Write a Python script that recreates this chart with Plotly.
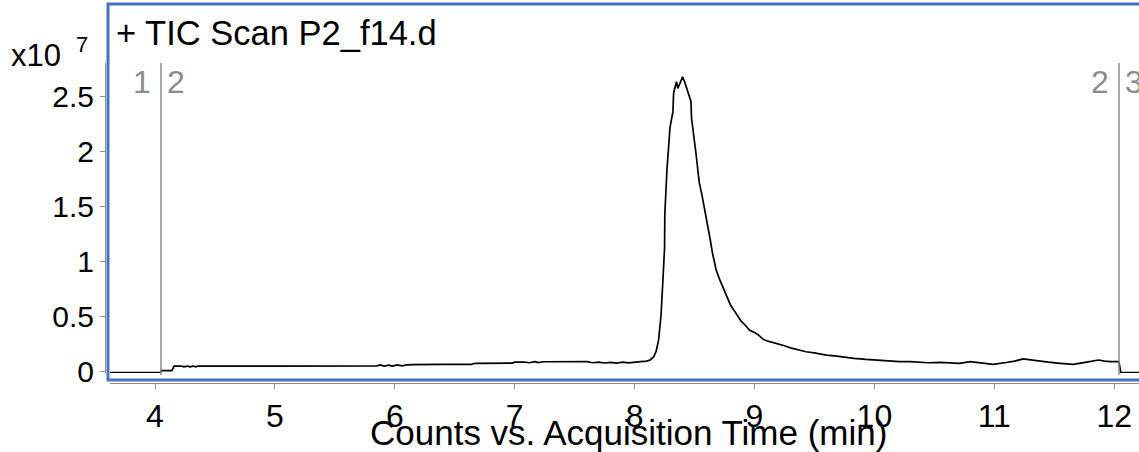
import plotly.graph_objects as go

# Total ion chromatogram, counts in units of 1e7
time_min = [
    3.58, 4.05, 4.05, 4.14, 4.16, 4.22, 4.24, 4.27, 4.29, 4.32, 4.34, 4.36,
    5.00, 5.85, 5.88, 5.91, 5.95, 5.98, 6.02, 6.06, 6.10, 6.15, 6.40, 6.64,
    6.66, 6.69, 6.98, 7.00, 7.08, 7.12, 7.17, 7.20, 7.24, 7.40, 7.60, 7.65,
    7.70, 7.75, 7.80, 7.85, 7.90, 7.95, 8.00, 8.05, 8.10, 8.13, 8.16, 8.18,
    8.20, 8.22, 8.235, 8.245, 8.25, 8.252, 8.27, 8.295, 8.32, 8.325, 8.33,
    8.35, 8.36, 8.38, 8.40, 8.42, 8.45, 8.47, 8.475, 8.48, 8.50, 8.515, 8.53,
    8.54, 8.56, 8.58, 8.60, 8.63, 8.65, 8.68, 8.71, 8.74, 8.77, 8.80, 8.83,
    8.85, 8.89, 8.92, 8.96, 9.00, 9.03, 9.07, 9.10, 9.15, 9.21, 9.25, 9.30,
    9.36, 9.43, 9.50, 9.60, 9.67, 9.74, 9.83, 9.93, 10.00, 10.07, 10.14,
    10.21, 10.30, 10.38, 10.45, 10.55, 10.63, 10.71, 10.80, 10.88, 10.99,
    11.10, 11.17, 11.24, 11.30, 11.35, 11.45, 11.55, 11.66, 11.77, 11.87,
    11.92, 11.97, 12.04, 12.055, 12.21,
]
counts_x1e7 = [
    -0.015, -0.015, 0.003, 0.003, 0.045, 0.045, 0.038, 0.045, 0.038, 0.045, 0.038, 0.045,
    0.045, 0.046, 0.055, 0.045, 0.054, 0.045, 0.055, 0.047, 0.055, 0.058, 0.060, 0.060,
    0.068, 0.070, 0.072, 0.080, 0.082, 0.075, 0.085, 0.076, 0.084, 0.085, 0.085, 0.075,
    0.080, 0.073, 0.079, 0.072, 0.080, 0.074, 0.082, 0.085, 0.090, 0.100, 0.130, 0.180,
    0.280, 0.50, 0.80, 1.05, 1.12, 1.42, 1.83, 2.21, 2.36, 2.52, 2.55,
    2.63, 2.57, 2.62, 2.675, 2.62, 2.52, 2.45, 2.30, 2.26, 2.10, 1.95, 1.80,
    1.71, 1.61, 1.50, 1.37, 1.20, 1.07, 0.92, 0.83, 0.75, 0.67, 0.60, 0.55,
    0.52, 0.45, 0.42, 0.37, 0.35, 0.33, 0.29, 0.275, 0.26, 0.245, 0.23, 0.21,
    0.195, 0.175, 0.165, 0.145, 0.138, 0.125, 0.115, 0.105, 0.100, 0.095, 0.090,
    0.085, 0.086, 0.080, 0.075, 0.078, 0.075, 0.070, 0.085, 0.077, 0.060,
    0.077, 0.090, 0.110, 0.100, 0.090, 0.080, 0.070, 0.060, 0.080, 0.100,
    0.090, 0.085, 0.085, -0.015, -0.015,
]

x_ticks = [4, 5, 6, 7, 8, 9, 10, 11, 12]
y_ticks = [0, 0.5, 1, 1.5, 2, 2.5]
y_tick_text = ["0", "0.5", "1", "1.5", "2", "2.5"]

# Integration segment boundaries and their labels
segment_times = [4.05, 12.04]
segment_labels = [("1", "2"), ("2", "3")]

title_text = "+ TIC Scan P2_f14.d"
x_title = "Counts vs. Acquisition Time (min)"

W, H = 1139, 452
ML, MR, MT, MB = 105, 0, 63, 69
PW, PH = W - ML - MR, H - MT - MB
FONT = "Liberation Sans, Arial, sans-serif"
GRAY = "#8c8c8c"


def px(x):
    return (x - ML) / PW


def py(y):
    return (H - MB - y) / PH


fig = go.Figure()
fig.add_trace(go.Scatter(
    x=time_min, y=counts_x1e7, mode="lines",
    line=dict(color="black", width=1.7), hoverinfo="skip", showlegend=False,
))

shapes = []
annotations = []
for t, (left_lab, right_lab) in zip(segment_times, segment_labels):
    shapes.append(dict(type="line", xref="x", yref="paper", x0=t, x1=t,
                       y0=py(375), y1=py(63), line=dict(color=GRAY, width=1.5)))
    annotations.append(dict(xref="x", yref="paper", x=t, y=py(82), text=left_lab,
                            showarrow=False, xanchor="right", yanchor="middle",
                            xshift=-8, font=dict(family=FONT, size=32, color=GRAY)))
    annotations.append(dict(xref="x", yref="paper", x=t, y=py(82), text=right_lab,
                            showarrow=False, xanchor="left", yanchor="middle",
                            xshift=4, font=dict(family=FONT, size=32, color=GRAY)))

# Blue frame around the chromatogram panel
shapes.append(dict(type="rect", xref="paper", yref="paper",
                   x0=px(108), x1=px(1150), y0=py(380), y1=py(4),
                   line=dict(color="#4472C4", width=3)))

annotations += [
    dict(xref="paper", yref="paper", x=px(114), y=py(33), text=title_text,
         showarrow=False, xanchor="left", yanchor="middle",
         font=dict(family=FONT, size=34.5, color="black")),
    dict(xref="paper", yref="paper", x=px(9), y=py(55), text="x10",
         showarrow=False, xanchor="left", yanchor="middle",
         font=dict(family=FONT, size=31, color="black")),
    dict(xref="paper", yref="paper", x=px(74), y=py(44), text="7",
         showarrow=False, xanchor="left", yanchor="middle",
         font=dict(family=FONT, size=22, color="black")),
    dict(xref="paper", yref="paper", x=px(628), y=py(432), text=x_title,
         showarrow=False, xanchor="center", yanchor="middle",
         font=dict(family=FONT, size=35, color="black")),
]

fig.update_layout(
    width=W, height=H,
    margin=dict(l=ML, r=MR, t=MT, b=MB, pad=0),
    paper_bgcolor="white", plot_bgcolor="white",
    shapes=shapes, annotations=annotations,
    xaxis=dict(
        domain=[px(110), 1], range=[3.6247, 12.207], anchor="free", position=0,
        showline=True, linecolor=GRAY, linewidth=1, showgrid=False, zeroline=False,
        ticks="outside", ticklen=5, tickcolor=GRAY, tickvals=x_ticks,
        tickfont=dict(family=FONT, size=32, color="black"),
    ),
    yaxis=dict(
        domain=[py(373), 1], range=[-0.0182, 2.8], anchor="free", position=0,
        showline=True, linecolor=GRAY, linewidth=1, showgrid=False, zeroline=False,
        ticks="outside", ticklen=5, tickcolor=GRAY, tickvals=y_ticks,
        ticktext=y_tick_text, tickfont=dict(family=FONT, size=30, color="black"),
    ),
)

fig.write_html("out.html")
